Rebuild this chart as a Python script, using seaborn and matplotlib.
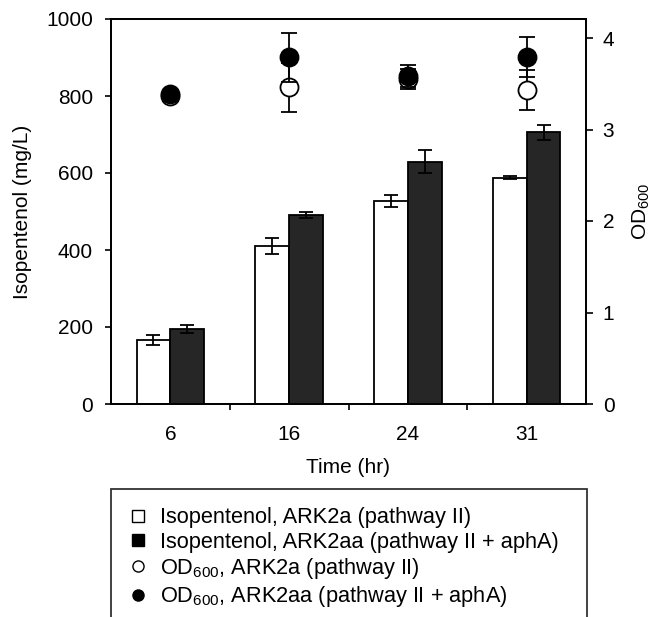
import numpy as np
import pandas as pd
import matplotlib
matplotlib.use("Agg")
import matplotlib.pyplot as plt
import seaborn as sns
from matplotlib.lines import Line2D

# data
times = ["6", "16", "24", "31"]
strains = ["ARK2a", "ARK2aa"]
iso_ark2a = [166, 411, 527, 588]
iso_ark2a_err = [14, 21, 15, 3]
iso_ark2aa = [195, 491, 629, 706]
iso_ark2aa_err = [10, 8, 30, 19]
od_ark2a = [3.37, 3.46, 3.55, 3.43]
od_ark2a_err = [0.02, 0.27, 0.11, 0.22]
od_ark2aa = [3.39, 3.79, 3.58, 3.79]
od_ark2aa_err = [0.02, 0.27, 0.12, 0.22]

legend_labels = [
    "Isopentenol, ARK2a (pathway II)",
    "Isopentenol, ARK2aa (pathway II + aphA)",
    "OD$_{600}$, ARK2a (pathway II)",
    "OD$_{600}$, ARK2aa (pathway II + aphA)",
]

sns.set_style("ticks")
plt.rcParams["font.family"] = ["Liberation Sans", "DejaVu Sans"]
plt.rcParams["mathtext.default"] = "regular"
for key in ["text.color", "axes.labelcolor", "xtick.color", "ytick.color",
            "axes.edgecolor"]:
    plt.rcParams[key] = "black"

df = pd.DataFrame({
    "time": times * 2,
    "strain": [strains[0]] * 4 + [strains[1]] * 4,
    "iso": iso_ark2a + iso_ark2aa,
})

dark = "#262626"
fs = 15
fig = plt.figure(figsize=(6.56, 6.17), dpi=100)
ax = fig.add_axes([111 / 656, 1 - 404 / 617, 475 / 656, 385 / 617])

sns.barplot(data=df, x="time", y="iso", hue="strain", order=times,
            hue_order=strains, palette=["white", dark], edgecolor="black",
            linewidth=1.3, width=0.57, errorbar=None, legend=False, ax=ax)

for cont, errs in zip(ax.containers, [iso_ark2a_err, iso_ark2aa_err]):
    xs = [p.get_x() + p.get_width() / 2 for p in cont]
    hs = [p.get_height() for p in cont]
    ax.errorbar(xs, hs, yerr=errs, fmt="none", ecolor="black",
                elinewidth=1.3, capsize=5, capthick=1.3, zorder=5)

ax.set_xlim(-0.5, 3.5)
ax.set_ylim(0, 1000)
ax.set_yticks(np.arange(0, 1001, 200))
ax.set_xticks(range(4))
ax.set_xticks([0.5, 1.5, 2.5], minor=True)
ax.tick_params(axis="x", which="major", length=0, labelsize=fs, pad=15)
ax.tick_params(axis="x", which="minor", length=4, width=1.2, direction="out")
ax.tick_params(axis="y", length=4, width=1.2, labelsize=fs, pad=9)
ax.set_xlabel("Time (hr)", fontsize=fs, labelpad=10)
ax.set_ylabel("Isopentenol (mg/L)", fontsize=fs, labelpad=10)
for s in ax.spines.values():
    s.set_linewidth(1.3)
    s.set_visible(True)

ax2 = ax.twinx()
x_pos = np.arange(len(times))
ax2.errorbar(x_pos, od_ark2a, yerr=od_ark2a_err, fmt="o", color="black",
             mfc="white", mec="black", ms=13, mew=1.3, elinewidth=1.3,
             capsize=5.5, capthick=1.3, zorder=6)
ax2.errorbar(x_pos, od_ark2aa, yerr=od_ark2aa_err, fmt="o", color="black",
             mfc="black", mec="black", ms=13, mew=1.3, elinewidth=1.3,
             capsize=5.5, capthick=1.3, zorder=7)
ax2.set_ylim(0, 1000 * 4 / (366 / 0.385))
ax2.set_yticks(range(5))
ax2.tick_params(axis="y", length=5, width=1.2, labelsize=fs, pad=7)
ax2.set_ylabel("OD$_{600}$", fontsize=fs, labelpad=12)
for s in ax2.spines.values():
    s.set_linewidth(1.3)

handles = [
    Line2D([], [], ls="none", marker="s", ms=8, mfc="white", mec="black", mew=1),
    Line2D([], [], ls="none", marker="s", ms=8, mfc="black", mec="black", mew=1),
    Line2D([], [], ls="none", marker="o", ms=8, mfc="white", mec="black", mew=1),
    Line2D([], [], ls="none", marker="o", ms=8, mfc="black", mec="black", mew=1),
]
leg = fig.legend(handles, legend_labels, loc="upper left",
                 bbox_to_anchor=(111 / 656, 1 - 495 / 617, 476 / 656, 0.01),
                 mode="expand", fontsize=15.7, frameon=True, fancybox=False,
                 edgecolor="black", handlelength=0.8, handletextpad=0.6,
                 borderpad=0.85, labelspacing=0.15, borderaxespad=0)
leg.get_frame().set_linewidth(1.3)

fig.savefig("out.png", dpi=100)
